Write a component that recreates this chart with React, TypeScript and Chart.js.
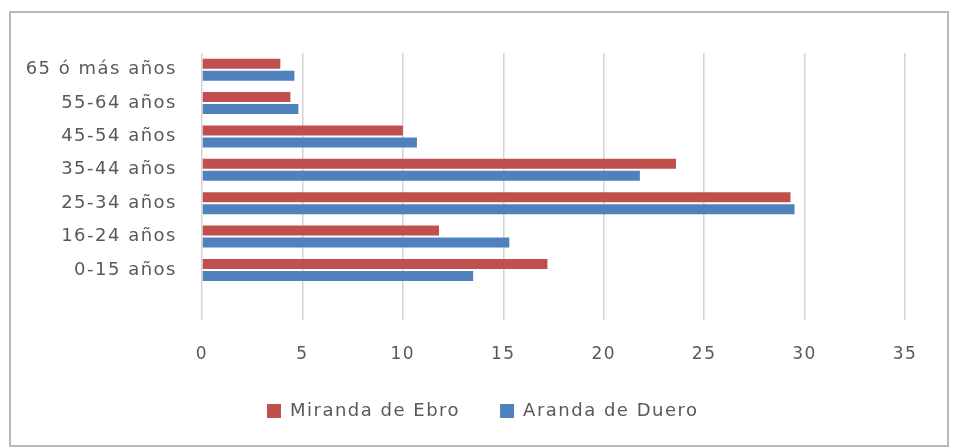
import React, { useEffect, useRef } from "react";
import { Chart, registerables } from "chart.js";

Chart.register(...registerables);

const categories = [
  "65 ó más años",
  "55-64 años",
  "45-54 años",
  "35-44 años",
  "25-34 años",
  "16-24 años",
  "0-15 años",
  "",
];
const mirandaValues = [3.9, 4.4, 10.0, 23.6, 29.3, 11.8, 17.2, null];
const arandaValues = [4.6, 4.8, 10.7, 21.8, 29.5, 15.3, 13.5, null];
const xTicks = [0, 5, 10, 15, 20, 25, 30, 35];

const FONT = "'DejaVu Sans', sans-serif";
const TEXT = "#595959";

const spacingPlugin = {
  id: "spacing",
  beforeLayout(chart: any) {
    chart.ctx.letterSpacing = "1.5px";
  },
  beforeDraw(chart: any) {
    chart.ctx.letterSpacing = "1.5px";
  },
};

const legendPlacer = {
  id: "legendPlacer",
  afterLayout(chart: any) {
    const lg = chart.legend;
    if (!lg) return;
    lg.left = 227;
    lg.right = 940;
    lg.width = 713;
    lg.top = 362;
    lg.bottom = 448;
    lg.height = 86;
  },
};

export default function App() {
  const ref = useRef<HTMLCanvasElement | null>(null);

  useEffect(() => {
    if (!ref.current) return;
    const chart = new Chart(ref.current, {
      type: "bar",
      data: {
        labels: categories,
        datasets: [
          {
            label: "Miranda de Ebro",
            data: mirandaValues,
            backgroundColor: "#C0504D",
            categoryPercentage: 0.72,
            barPercentage: 0.83,
          },
          {
            label: "Aranda de Duero",
            data: arandaValues,
            backgroundColor: "#4F81BD",
            categoryPercentage: 0.72,
            barPercentage: 0.83,
          },
        ],
      },
      options: {
        indexAxis: "y",
        responsive: false,
        animation: false,
        layout: { padding: { left: 0, right: 63, top: 53, bottom: 67 } },
        scales: {
          x: {
            min: 0,
            max: 35,
            afterBuildTicks(scale: any) {
              scale.ticks = xTicks.map((v) => ({ value: v }));
            },
            afterFit(scale: any) {
              scale.height = 60;
            },
            grid: { color: "#d4d4d4", lineWidth: 1.5, drawTicks: false },
            border: { display: false },
            ticks: {
              padding: 24,
              color: TEXT,
              font: { family: FONT, size: 17 },
            },
          },
          y: {
            afterFit(scale: any) {
              scale.width = 202;
            },
            grid: { display: false, drawTicks: false },
            border: { display: false },
            ticks: {
              padding: 25,
              color: TEXT,
              font: { family: FONT, size: 18 },
            },
          },
        },
        plugins: {
          legend: {
            position: "bottom",
            align: "start",
            maxHeight: 1,
            labels: {
              boxWidth: 14,
              boxHeight: 14,
              padding: 40,
              color: TEXT,
              font: { family: FONT, size: 18 },
            },
          },
          tooltip: { enabled: false },
        },
      },
      plugins: [spacingPlugin, legendPlacer],
    } as any);
    return () => chart.destroy();
  }, []);

  return (
    <div
      style={{
        position: "absolute",
        left: 0,
        top: 0,
        width: 968,
        height: 448,
        background: "#ffffff",
      }}
    >
      <canvas
        ref={ref}
        width={968}
        height={448}
        style={{ position: "absolute", left: 0, top: 0, width: 968, height: 448 }}
      />
      <div
        style={{
          position: "absolute",
          left: 9,
          top: 11,
          width: 936,
          height: 432,
          border: "2px solid #b8b8b8",
          pointerEvents: "none",
        }}
      />
    </div>
  );
}
